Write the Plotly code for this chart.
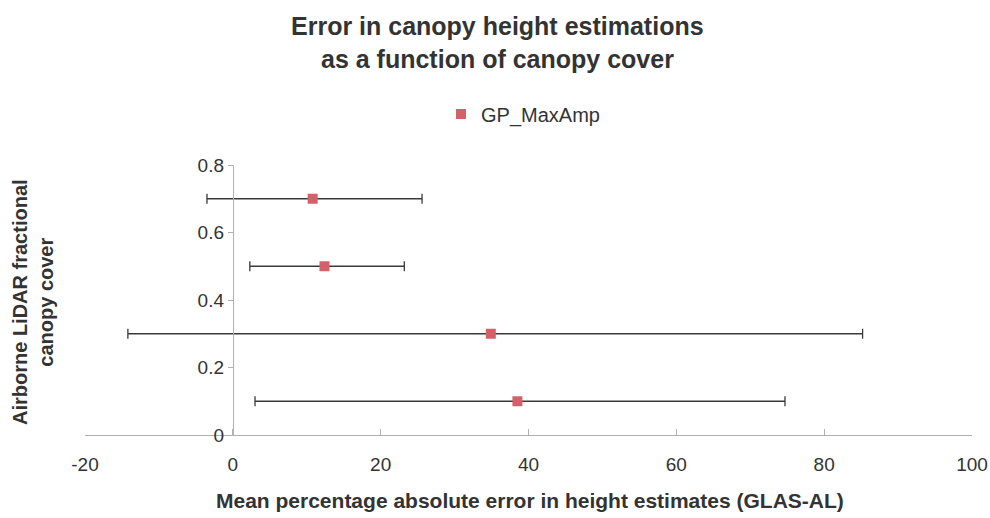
import plotly.graph_objects as go

# Data
cover = [0.7, 0.5, 0.3, 0.1]                 # Airborne LiDAR fractional canopy cover
mean_err = [10.8, 12.4, 34.9, 38.5]          # mean % absolute error
err_low = [-3.5, 2.3, -14.2, 3.0]            # lower end of error bar
err_high = [25.6, 23.2, 85.2, 74.7]          # upper end of error bar
series_name = "GP_MaxAmp"
x_ticks = [-20, 0, 20, 40, 60, 80, 100]
x_ticklabels = ["-20", "0", "20", "40", "60", "80", "100"]
y_ticks = [0, 0.2, 0.4, 0.6, 0.8]
y_ticklabels = ["0", "0.2", "0.4", "0.6", "0.8"]

err_plus = [h - m for h, m in zip(err_high, mean_err)]
err_minus = [m - l for m, l in zip(mean_err, err_low)]

FONT = "Liberation Sans, Arial, sans-serif"
TXT = "#333333"
AX = "#b0b0b0"

fig = go.Figure(go.Scatter(
    x=mean_err, y=cover, mode="markers", name=series_name,
    marker=dict(symbol="square", size=10, color="#d4606a"),
    error_x=dict(type="data", symmetric=False, array=err_plus, arrayminus=err_minus,
                 color="#3a3a3a", thickness=1.3, width=5),
))

L, R, T, B = 85, 18, 165, 83
W, H = 990, 518
ph = H - T - B
pw = W - L - R

fig.update_layout(
    width=W, height=H,
    margin=dict(l=L, r=R, t=T, b=B, autoexpand=False),
    paper_bgcolor="white", plot_bgcolor="white",
    font=dict(family=FONT, color=TXT),
    showlegend=True,
    legend=dict(x=(441 - L) / pw, xanchor="left", y=1 + (T - 114) / ph, yanchor="middle",
                font=dict(size=20, color=TXT), bgcolor="rgba(0,0,0,0)"),
    xaxis=dict(range=[-20, 100], tickvals=x_ticks, ticktext=x_ticklabels,
               ticks="inside", ticklen=6, automargin=False,
               tickcolor=AX, showline=True, linecolor=AX, linewidth=1,
               showgrid=False, zeroline=False, tickfont=dict(size=19, color=TXT),
               ticklabelstandoff=12),
    yaxis=dict(range=[0, 0.8], tickvals=y_ticks, ticktext=y_ticklabels,
               anchor="free", position=1 / 6, ticks="outside", ticklen=5, automargin=False,
               tickcolor=AX, showline=True, linecolor=AX, linewidth=1,
               showgrid=False, zeroline=False, tickfont=dict(size=19, color=TXT)),
)

anns = [
    dict(text="<b>Error in canopy height estimations</b>", x=(497 - L) / pw, y=1 + (T - 26) / ph,
         font=dict(size=25)),
    dict(text="<b>as a function of canopy cover</b>", x=(497 - L) / pw, y=1 + (T - 59) / ph,
         font=dict(size=25)),
    dict(text="<b>Mean percentage absolute error in height estimates (GLAS-AL)</b>",
         x=(530 - L) / pw, y=-(500 - (H - B)) / ph, font=dict(size=21)),
    dict(text="<b>Airborne LiDAR fractional<br>canopy cover</b>", x=(33 - L) / pw,
         y=(H - B - 302) / ph, textangle=-90, font=dict(size=20)),
]
for a in anns:
    fig.add_annotation(xref="paper", yref="paper", showarrow=False, xanchor="center",
                       yanchor="middle", font_color=TXT, **a)

fig.write_html("out.html")
